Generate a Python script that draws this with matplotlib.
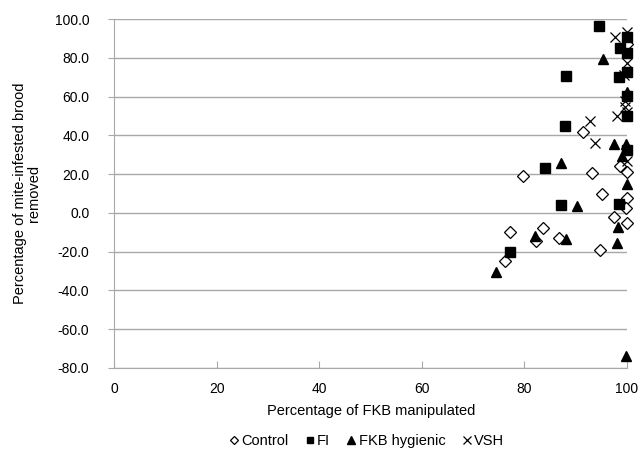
import matplotlib
matplotlib.use("Agg")
import matplotlib.pyplot as plt

plt.rcParams['font.family'] = ['Liberation Sans', 'DejaVu Sans']

control_x = [100, 91.4, 98.6, 100, 79.7, 93.2, 95.1, 100, 99.8, 97.5, 100, 77.2, 83.7, 82.3, 86.7, 76.2, 94.8]
control_y = [87.2, 42.0, 24.0, 21.0, 19.3, 20.5, 10.0, 7.5, 2.6, -2.3, -5.4, -10.0, -7.7, -14.3, -12.9, -24.6, -18.9]

fi_x = [94.6, 100, 98.6, 100, 88.2, 98.4, 100, 100, 100, 88.0, 100, 84.1, 87.1, 98.4, 77.2]
fi_y = [96.3, 90.8, 85.0, 82.4, 70.9, 70.0, 72.6, 60.6, 49.8, 45.1, 32.4, 23.0, 4.3, 4.4, -20.0]

fkb_x = [95.4, 100, 97.5, 99.8, 99.0, 87.2, 100, 90.2, 98.2, 82.1, 88.1, 74.5, 98.0, 99.8]
fkb_y = [79.3, 62.3, 35.8, 35.4, 29.6, 25.8, 14.8, 3.5, -7.1, -11.7, -13.4, -30.7, -15.7, -74.0]

vsh_x = [97.6, 100, 100, 99.5, 99.7, 99.7, 98.0, 100, 92.8, 93.7, 100]
vsh_y = [90.7, 93.2, 77.5, 71.0, 57.8, 54.5, 50.0, 52.0, 47.6, 36.3, 26.8]

x_ticks = [0, 20, 40, 60, 80, 100]
y_ticks = [-80, -60, -40, -20, 0, 20, 40, 60, 80, 100]

fig = plt.figure(figsize=(6.43, 4.57), dpi=100)
ax = fig.add_axes([0.178, 0.195, 0.797, 0.763])

ax.set_xlim(0, 100)
ax.set_ylim(-80, 100)
ax.set_xticks(x_ticks)
ax.set_xticklabels([str(t) for t in x_ticks])
ax.set_yticks(y_ticks)
ax.set_yticklabels([f"{t:.1f}" for t in y_ticks])

for t in y_ticks:
    ax.axhline(t, color='#a8a8a8', lw=1.0, zorder=1)

for s in ['top', 'right']:
    ax.spines[s].set_visible(False)
ax.spines['left'].set_color('#a8a8a8')
ax.spines['bottom'].set_color('#a8a8a8')
ax.tick_params(axis='y', direction='out', length=4, color='#a8a8a8', labelsize=10, pad=14)
ax.tick_params(axis='x', direction='in', length=5, color='#a8a8a8', labelsize=10, pad=10)

ax.plot(control_x, control_y, linestyle='none', marker='D', markersize=6, markerfacecolor='white',
        markeredgecolor='black', markeredgewidth=0.9, label='Control', zorder=3, clip_on=False)
ax.plot(fi_x, fi_y, linestyle='none', marker='s', markersize=6.5, color='black', label='FI', zorder=3,
        clip_on=False)
ax.plot(fkb_x, fkb_y, linestyle='none', marker='^', markersize=7.5, color='black', label='FKB hygienic',
        zorder=3, clip_on=False)
ax.plot(vsh_x, vsh_y, linestyle='none', marker='x', markersize=7.5, color='black', markeredgewidth=0.9,
        label='VSH', zorder=3, clip_on=False)

ax.set_xlabel('Percentage of FKB manipulated', fontsize=10.5, labelpad=6)
ax.set_ylabel('Percentage of mite-infested brood\nremoved', fontsize=10.5, labelpad=10, linespacing=1.0)

handles, labels = ax.get_legend_handles_labels()
fig.legend(handles, labels, loc='lower center', bbox_to_anchor=(0.57, -0.01), ncol=4, frameon=False,
           fontsize=10.5, markerscale=0.7, handlelength=0.7, handletextpad=0.15, columnspacing=1.1)

fig.savefig('out.png', dpi=100)
